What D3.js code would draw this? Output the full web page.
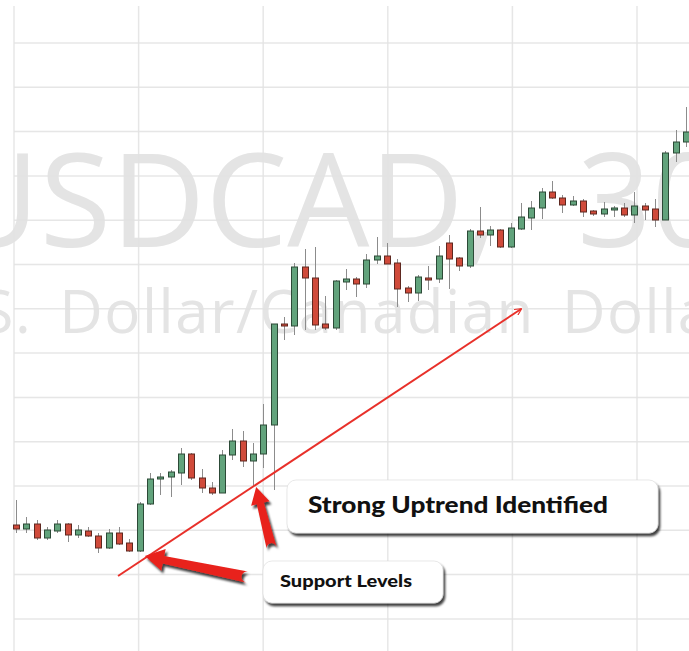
<!DOCTYPE html>
<html>
<head>
<meta charset="utf-8">
<script src="https://cdn.jsdelivr.net/npm/d3@7"></script>
<style>
  html, body { margin: 0; padding: 0; background: #fff; }
  svg { display: block; }
</style>
</head>
<body>
<div id="chart"></div>
<script>
// USDCAD 30 minute bars
const opens = [1.00630, 1.00610, 1.00635, 1.00565, 1.00600, 1.00635, 1.00580, 1.00600, 1.00575, 1.00515,
  1.00590, 1.00540, 1.00500, 1.00735, 1.00860, 1.00870, 1.00890, 1.00985, 1.00865, 1.00815,
  1.00790, 1.00980, 1.01050, 1.00950, 1.00985, 1.01130, 1.01635, 1.01625, 1.01920, 1.01865,
  1.01635, 1.01615, 1.01845, 1.01860, 1.01835, 1.01955, 1.01975, 1.01940, 1.01815, 1.01790,
  1.01865, 1.01860, 1.02040, 1.01965, 1.01925, 1.02100, 1.02080, 1.02105, 1.02020, 1.02110,
  1.02165, 1.02215, 1.02295, 1.02265, 1.02230, 1.02250, 1.02200, 1.02185, 1.02205, 1.02215,
  1.02180, 1.02225, 1.02210, 1.02155, 1.02490, 1.02545];
const highs = [1.00755, 1.00670, 1.00655, 1.00620, 1.00655, 1.00640, 1.00630, 1.00620, 1.00590, 1.00610,
  1.00620, 1.00560, 1.00745, 1.00890, 1.00890, 1.00905, 1.01015, 1.00990, 1.00910, 1.00845,
  1.01005, 1.01110, 1.01100, 1.01040, 1.01235, 1.01635, 1.01670, 1.01940, 1.02010, 1.02020,
  1.01775, 1.01855, 1.01910, 1.01870, 1.01985, 1.02070, 1.02040, 1.01960, 1.01825, 1.01880,
  1.01925, 1.02025, 1.02080, 1.01970, 1.02110, 1.02220, 1.02125, 1.02110, 1.02140, 1.02240,
  1.02250, 1.02315, 1.02350, 1.02280, 1.02275, 1.02260, 1.02205, 1.02245, 1.02225, 1.02240,
  1.02295, 1.02240, 1.02260, 1.02500, 1.02605, 1.02720];
const lows = [1.00590, 1.00590, 1.00555, 1.00555, 1.00590, 1.00545, 1.00565, 1.00570, 1.00490, 1.00510,
  1.00530, 1.00495, 1.00495, 1.00730, 1.00780, 1.00770, 1.00830, 1.00855, 1.00790, 1.00780,
  1.00790, 1.00955, 1.00920, 1.00820, 1.00915, 1.00805, 1.01555, 1.01580, 1.01605, 1.01605,
  1.01605, 1.01605, 1.01805, 1.01770, 1.01815, 1.01935, 1.01935, 1.01720, 1.01745, 1.01750,
  1.01805, 1.01840, 1.01810, 1.01900, 1.01915, 1.02065, 1.02025, 1.02015, 1.02015, 1.02105,
  1.02105, 1.02160, 1.02260, 1.02190, 1.02225, 1.02170, 1.02175, 1.02170, 1.02170, 1.02170,
  1.02140, 1.02155, 1.02120, 1.02155, 1.02445, 1.02520];
const closes = [1.00610, 1.00635, 1.00565, 1.00605, 1.00635, 1.00580, 1.00605, 1.00575, 1.00515, 1.00590,
  1.00535, 1.00500, 1.00735, 1.00860, 1.00870, 1.00895, 1.00985, 1.00865, 1.00815, 1.00790,
  1.00980, 1.01050, 1.00950, 1.00985, 1.01130, 1.01635, 1.01625, 1.01920, 1.01865, 1.01630,
  1.01615, 1.01850, 1.01860, 1.01835, 1.01955, 1.01975, 1.01935, 1.01810, 1.01790, 1.01870,
  1.01860, 1.01975, 1.01960, 1.01925, 1.02100, 1.02080, 1.02105, 1.02020, 1.02115, 1.02170,
  1.02215, 1.02295, 1.02265, 1.02230, 1.02250, 1.02195, 1.02185, 1.02210, 1.02215, 1.02180,
  1.02225, 1.02205, 1.02155, 1.02490, 1.02545, 1.02595];

const symbolText = "USDCAD, 30";
const nameText = "U.S. Dollar/Canadian Dollar";
const uptrendLabel = "Strong Uptrend Identified";
const supportLabel = "Support Levels";

// annotations in (bar index, price)
const trendLine = [[9.9, 1.00375], [49.0, 1.01710]];
const supportArrow = [[22.4, 1.00370], [12.5, 1.00475]];
const uptrendArrow = [[24.8, 1.00515], [23.3, 1.00820]];

const width = 689;
const height = 651;

const svg = d3.select("#chart")
  .append("svg")
  .attr("width", width)
  .attr("height", height)
  .attr("viewBox", [0, 0, width, height]);

const defs = svg.append("defs");
defs.append("filter")
  .attr("id", "shadow")
  .attr("x", "-10%").attr("y", "-20%")
  .attr("width", "130%").attr("height", "160%")
  .append("feDropShadow")
  .attr("dx", 2).attr("dy", 3)
  .attr("stdDeviation", 1.2)
  .attr("flood-color", "#000")
  .attr("flood-opacity", 0.75);
defs.append("marker")
  .attr("id", "trendHead")
  .attr("viewBox", "0 0 10 10")
  .attr("refX", 9).attr("refY", 5)
  .attr("markerWidth", 7).attr("markerHeight", 7)
  .attr("markerUnits", "userSpaceOnUse")
  .attr("orient", "auto")
  .append("path")
  .attr("d", "M0,0 L10,5 L0,10")
  .attr("fill", "none")
  .attr("stroke", "#e8302a")
  .attr("stroke-width", 1.6);

const x = d3.scaleLinear()
  .domain([0, opens.length - 1])
  .range([16, 686]);
const y = d3.scaleLinear()
  .domain([1.0, 1.03255])
  .range([height, 0]);

// watermark
const mark = svg.append("g").attr("fill", "#e4e4e4")
  .attr("font-family", "'Open Sans', 'DejaVu Sans', sans-serif");
mark.append("text")
  .attr("x", -55).attr("y", 247)
  .attr("font-size", 130)
  .style("word-spacing", "46px")
  .text(symbolText);
mark.append("text")
  .attr("x", -82).attr("y", 333)
  .attr("font-size", 60)
  .attr("letter-spacing", 1.5)
  .style("word-spacing", "10px")
  .text(nameText);

// grid
const grid = svg.append("g")
  .attr("stroke", "#e2e2e2")
  .attr("stroke-opacity", 0.85)
  .attr("stroke-width", 1.5);
grid.selectAll(".gx")
  .data(d3.range(14, width, 124.6))
  .join("line")
  .attr("x1", d => d).attr("x2", d => d)
  .attr("y1", 6).attr("y2", height);
grid.selectAll(".gy")
  .data(d3.range(43, height, 44.3))
  .join("line")
  .attr("x1", 14).attr("x2", width)
  .attr("y1", d => d).attr("y2", d => d);

// candles
const bars = opens.map((o, i) => ({ i, o, h: highs[i], l: lows[i], c: closes[i] }));
const bodyW = 6;
const candle = svg.append("g")
  .selectAll("g")
  .data(bars)
  .join("g")
  .attr("transform", d => `translate(${Math.round(x(d.i)) + 0.5},0)`);
candle.append("line")
  .attr("y1", d => y(d.h))
  .attr("y2", d => y(d.l))
  .attr("stroke", "#8c8c8c")
  .attr("stroke-width", 1);
candle.append("rect")
  .attr("x", -bodyW / 2)
  .attr("y", d => y(Math.max(d.o, d.c)))
  .attr("width", bodyW)
  .attr("height", d => Math.max(2, Math.abs(y(d.o) - y(d.c))))
  .attr("fill", d => d.c >= d.o ? "#62a37c" : "#d04a3a")
  .attr("stroke", d => d.c >= d.o ? "#2c4a37" : "#5e2820")
  .attr("stroke-width", 1);

// trend line
svg.append("line")
  .attr("x1", x(trendLine[0][0])).attr("y1", y(trendLine[0][1]))
  .attr("x2", x(trendLine[1][0])).attr("y2", y(trendLine[1][1]))
  .attr("stroke", "#e8302a")
  .attr("stroke-width", 2)
  .attr("marker-end", "url(#trendHead)");

// fat red pointers
function arrowPath(pts, tailW, neckW, headW, headL) {
  const [tx, ty] = [x(pts[0][0]), y(pts[0][1])];
  const [px, py] = [x(pts[1][0]), y(pts[1][1])];
  const len = Math.hypot(px - tx, py - ty);
  const ux = (px - tx) / len, uy = (py - ty) / len;
  const nx = -uy, ny = ux;
  const bx = px - ux * headL, by = py - uy * headL;
  const p = d3.path();
  p.moveTo(tx + nx * tailW, ty + ny * tailW);
  p.lineTo(bx + nx * neckW, by + ny * neckW);
  p.lineTo(bx + nx * headW, by + ny * headW);
  p.lineTo(px, py);
  p.lineTo(bx - nx * headW, by - ny * headW);
  p.lineTo(bx - nx * neckW, by - ny * neckW);
  p.lineTo(tx - nx * tailW, ty - ny * tailW);
  p.arc(tx, ty, tailW, Math.atan2(-ny, -nx), Math.atan2(ny, nx), false);
  p.closePath();
  return p.toString();
}
const arrows = svg.append("g").attr("filter", "url(#shadow)");
arrows.append("path")
  .attr("d", arrowPath(supportArrow, 5.5, 3.8, 11, 19))
  .attr("fill", "#e8221c");
arrows.append("path")
  .attr("d", arrowPath(uptrendArrow, 5, 3.6, 9.5, 17))
  .attr("fill", "#e8221c");

// callout boxes
const callouts = [
  { text: uptrendLabel, x: 287, y: 480, w: 371, h: 53, tx: 308, ty: 513, size: 22, len: 300 },
  { text: supportLabel, x: 263, y: 561, w: 180, h: 42, tx: 280, ty: 587, size: 17, len: 132 }
];
const box = svg.append("g")
  .selectAll("g")
  .data(callouts)
  .join("g");
box.append("rect")
  .attr("x", d => d.x).attr("y", d => d.y)
  .attr("width", d => d.w).attr("height", d => d.h)
  .attr("rx", 9)
  .attr("fill", "#fff")
  .attr("stroke", "#d8d8d8")
  .attr("stroke-width", 0.6)
  .attr("filter", "url(#shadow)");
box.append("text")
  .attr("x", d => d.tx).attr("y", d => d.ty)
  .attr("font-family", "Lato, 'DejaVu Sans', sans-serif")
  .attr("font-weight", 900)
  .attr("font-size", d => d.size)
  .attr("textLength", d => d.len)
  .attr("lengthAdjust", "spacingAndGlyphs")
  .attr("fill", "#111")
  .text(d => d.text);
</script>
</body>
</html>
